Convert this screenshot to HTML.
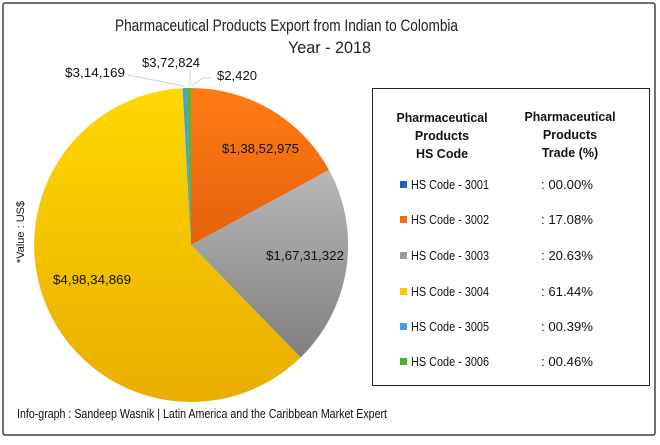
<!DOCTYPE html>
<html><head><meta charset="utf-8"><style>
body{margin:0;width:660px;height:440px;background:#fff;overflow:hidden;font-family:"Liberation Sans",sans-serif}
</style></head><body>
<svg width="660" height="440" viewBox="0 0 660 440" xmlns="http://www.w3.org/2000/svg" font-family="Liberation Sans, sans-serif">
<defs>
<linearGradient id="go" x1="0" y1="0" x2="0" y2="1"><stop offset="0" stop-color="#ff7c14"/><stop offset="1" stop-color="#e5610c"/></linearGradient>
<linearGradient id="gg" x1="0" y1="0" x2="0" y2="1"><stop offset="0" stop-color="#b8b8b8"/><stop offset="1" stop-color="#7f7f7f"/></linearGradient>
<linearGradient id="gy" x1="0" y1="0" x2="0" y2="1"><stop offset="0" stop-color="#ffd800"/><stop offset="1" stop-color="#e9ad00"/></linearGradient>
</defs>
<rect x="3" y="3" width="652" height="432" fill="#fff" stroke="#404040" stroke-width="1.5" rx="2"/>
<text x="115" y="31" font-size="17" fill="#222" textLength="343" lengthAdjust="spacingAndGlyphs">Pharmaceutical Products Export from Indian to Colombia</text>
<text x="288" y="53" font-size="17" fill="#222" textLength="83" lengthAdjust="spacingAndGlyphs">Year - 2018</text>
<path d="M191,245 L191,88 A157,157 0 0 1 329,170 Z" fill="url(#go)"/>
<path d="M191,245 L329,170 A157,157 0 0 1 300.6,357.5 Z" fill="url(#gg)"/>
<path d="M191,245 L300.6,357.5 A157,157 0 1 1 182.6,88.2 Z" fill="url(#gy)"/>
<path d="M191,245 L182.6,88.2 A157,157 0 0 1 186.4,88 Z" fill="#3fa0e8"/>
<path d="M191,245 L186.4,88 A157,157 0 0 1 191,88 Z" fill="#5bb33c"/>
<g stroke="#c8d4e0" stroke-width="1" fill="none">
<polyline points="128,75 184,86"/>
<polyline points="190,70 190,86"/>
<polyline points="192,86 203,78 210,78"/>
</g>
<g font-size="13" fill="#111">
<text x="65" y="77" textLength="60" lengthAdjust="spacingAndGlyphs">$3,14,169</text>
<text x="142" y="67" textLength="58" lengthAdjust="spacingAndGlyphs">$3,72,824</text>
<text x="217" y="80" textLength="40" lengthAdjust="spacingAndGlyphs">$2,420</text>
<text x="222" y="153" textLength="77" lengthAdjust="spacingAndGlyphs">$1,38,52,975</text>
<text x="266" y="260" textLength="78" lengthAdjust="spacingAndGlyphs">$1,67,31,322</text>
<text x="53" y="284" textLength="78" lengthAdjust="spacingAndGlyphs">$4,98,34,869</text>
</g>
<text transform="translate(24,232) rotate(-90)" font-size="11" text-anchor="middle" fill="#111">*Value : US$</text>
<rect x="372.5" y="88.5" width="277" height="297" fill="#fff" stroke="#222" stroke-width="1"/>
<g font-size="12.5" font-weight="bold" fill="#111" text-anchor="middle">
<text x="442" y="122" textLength="91" lengthAdjust="spacingAndGlyphs">Pharmaceutical</text><text x="442" y="140">Products</text><text x="442" y="158">HS Code</text>
<text x="570" y="121" textLength="91" lengthAdjust="spacingAndGlyphs">Pharmaceutical</text><text x="570" y="139">Products</text><text x="570" y="157">Trade (%)</text>
</g>
<g font-size="12.5" fill="#111">
<rect x="400" y="181" width="7" height="7" fill="#1f5ccc"/><text x="411" y="189" textLength="78" lengthAdjust="spacingAndGlyphs">HS Code - 3001</text><text x="541" y="189" textLength="52" lengthAdjust="spacingAndGlyphs">: 00.00%</text>
<rect x="400" y="216" width="7" height="7" fill="#f26d10"/><text x="411" y="224" textLength="78" lengthAdjust="spacingAndGlyphs">HS Code - 3002</text><text x="541" y="224" textLength="52" lengthAdjust="spacingAndGlyphs">: 17.08%</text>
<rect x="400" y="252" width="7" height="7" fill="#9a9a9a"/><text x="411" y="260" textLength="78" lengthAdjust="spacingAndGlyphs">HS Code - 3003</text><text x="541" y="260" textLength="52" lengthAdjust="spacingAndGlyphs">: 20.63%</text>
<rect x="400" y="288" width="7" height="7" fill="#ffc800"/><text x="411" y="296" textLength="78" lengthAdjust="spacingAndGlyphs">HS Code - 3004</text><text x="541" y="296" textLength="52" lengthAdjust="spacingAndGlyphs">: 61.44%</text>
<rect x="400" y="323" width="7" height="7" fill="#3fa0e8"/><text x="411" y="331" textLength="78" lengthAdjust="spacingAndGlyphs">HS Code - 3005</text><text x="541" y="331" textLength="52" lengthAdjust="spacingAndGlyphs">: 00.39%</text>
<rect x="400" y="358" width="7" height="7" fill="#4caf32"/><text x="411" y="366" textLength="78" lengthAdjust="spacingAndGlyphs">HS Code - 3006</text><text x="541" y="366" textLength="52" lengthAdjust="spacingAndGlyphs">: 00.46%</text>
</g>
<text x="17" y="418" font-size="13" fill="#111" textLength="370" lengthAdjust="spacingAndGlyphs">Info-graph : Sandeep Wasnik | Latin America and the Caribbean Market Expert</text>
</svg>
</body></html>
